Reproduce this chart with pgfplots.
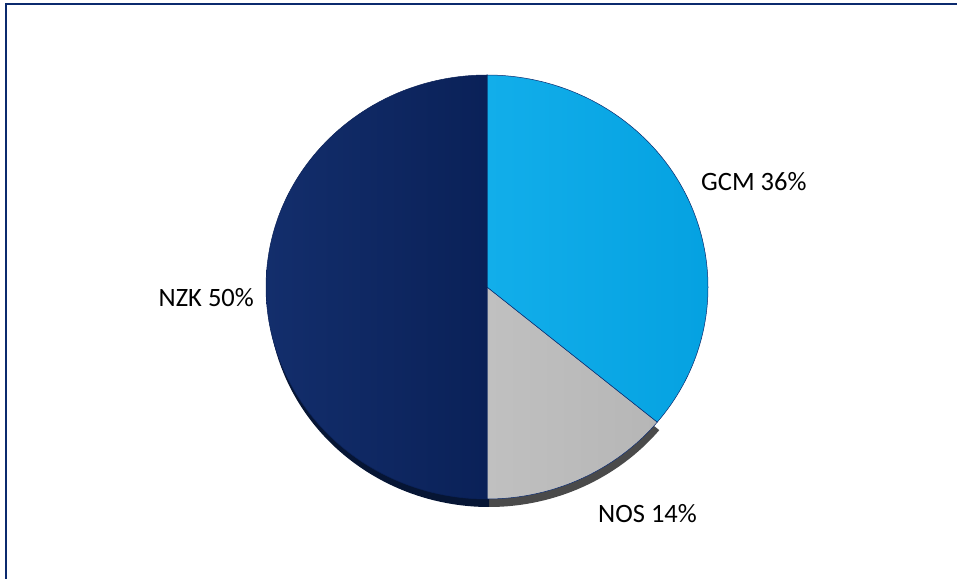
\documentclass[border=0pt]{standalone}
\usepackage{pgfplots}
\usepackage{pgfplotstable}
\pgfplotsset{compat=1.18}
\usepackage{fontspec}
\setmainfont{Carlito}

\definecolor{gcmL}{HTML}{12AEEA}
\definecolor{gcmR}{HTML}{03A0E0}
\definecolor{nosL}{HTML}{C0C0C0}
\definecolor{nosR}{HTML}{B6B6B6}
\definecolor{nzkL}{HTML}{132E6C}
\definecolor{nzkR}{HTML}{0A2158}
\definecolor{nzkSide}{HTML}{061534}
\definecolor{nosSide}{HTML}{4A4A4A}
\definecolor{frame}{HTML}{0B2A6E}

% shares, counter-clockwise from the bottom of the pie
\pgfplotstableread{
label value
NOS 14
GCM 36
NZK 50
}\piedata

\begin{document}
\begin{tikzpicture}
\useasboundingbox (0,0) rectangle (957pt,578pt);

% start / end angles from the shares
\pgfmathsetmacro\cum{-90}
\pgfplotsforeachungrouped \i in {0,1,2}{
  \pgfplotstablegetelem{\i}{value}\of\piedata
  \expandafter\edef\csname val\i\endcsname{\pgfplotsretval}
  \expandafter\edef\csname st\i\endcsname{\cum}
  \pgfmathsetmacro\cum{\cum+3.6*\pgfplotsretval}
  \expandafter\edef\csname en\i\endcsname{\cum}
  \pgfplotstablegetelem{\i}{label}\of\piedata
  \expandafter\edef\csname lab\i\endcsname{\pgfplotsretval}
}

\begin{axis}[
  at={(0,0)}, anchor=south west,
  width=957pt, height=578pt, scale only axis,
  xmin=0, xmax=957, ymin=0, ymax=578,
  hide axis, clip=false,
]
% side wall: the same wedges moved down and a little right
\fill[nosSide] (axis cs:489,283) -- ++(\csname st0\endcsname:221pt and 212pt)
  arc[start angle=\csname st0\endcsname, end angle=\csname en0\endcsname, x radius=221pt, y radius=212pt] -- cycle;
\fill[nzkSide] (axis cs:489,283) -- ++(\csname st2\endcsname:221pt and 212pt)
  arc[start angle=\csname st2\endcsname, end angle=\csname en2\endcsname, x radius=221pt, y radius=212pt] -- cycle;

% top faces
\shade[left color=nosL, right color=nosR, draw=frame, line width=0.5pt]
  (axis cs:487,291) -- ++(\csname st0\endcsname:221pt and 212pt)
  arc[start angle=\csname st0\endcsname, end angle=\csname en0\endcsname, x radius=221pt, y radius=212pt] -- cycle;
\shade[left color=gcmL, right color=gcmR, draw=frame, line width=0.5pt]
  (axis cs:487,291) -- ++(\csname st1\endcsname:221pt and 212pt)
  arc[start angle=\csname st1\endcsname, end angle=\csname en1\endcsname, x radius=221pt, y radius=212pt] -- cycle;
\shade[left color=nzkL, right color=nzkR, draw=nzkR, line width=0.5pt]
  (axis cs:487,291) -- ++(\csname st2\endcsname:221pt and 212pt)
  arc[start angle=\csname st2\endcsname, end angle=\csname en2\endcsname, x radius=221pt, y radius=212pt] -- cycle;

% labels
\node[anchor=west, font=\fontsize{26.5}{31}\selectfont, inner sep=0pt]
  at (axis cs:701,396) {\csname lab1\endcsname\ \csname val1\endcsname\%};
\node[anchor=west, font=\fontsize{26.5}{31}\selectfont, inner sep=0pt]
  at (axis cs:598,64) {\csname lab0\endcsname\ \csname val0\endcsname\%};
\node[anchor=east, font=\fontsize{26.5}{31}\selectfont, inner sep=0pt]
  at (axis cs:254,280) {\csname lab2\endcsname\ \csname val2\endcsname\%};

% outer frame
\draw[frame, line width=2pt, overlay] (axis cs:6,-20) -- (axis cs:6,574) -- (axis cs:980,574);
\end{axis}
\end{tikzpicture}
\end{document}
